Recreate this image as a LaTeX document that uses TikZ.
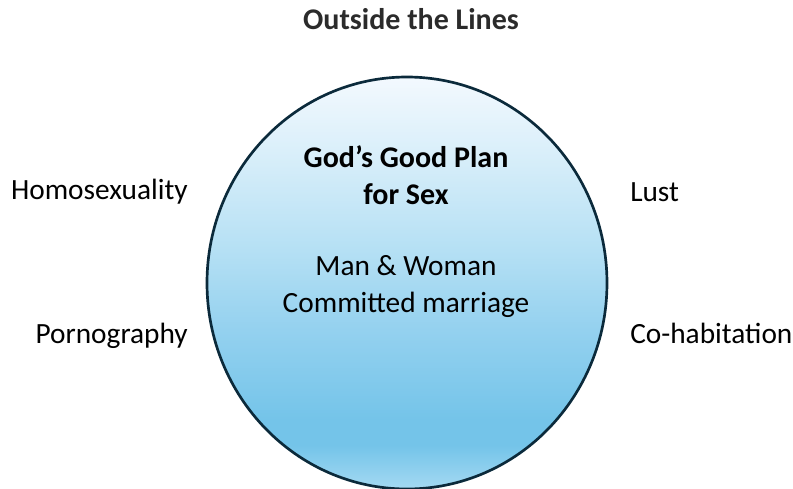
\documentclass[tikz,border=0pt]{standalone}
\usepackage{fontspec}
\setmainfont{Carlito}
\usetikzlibrary{shapes.geometric}
\definecolor{rimcol}{HTML}{0B2A3B}
\definecolor{titlecol}{HTML}{2B2B2B}
\definecolor{gA}{HTML}{F3F9FE}
\definecolor{gB}{HTML}{DAEFFA}
\definecolor{gC}{HTML}{B5E0F4}
\definecolor{gD}{HTML}{94D1EF}
\definecolor{gE}{HTML}{74C4E9}
\definecolor{gF}{HTML}{A4D9F2}
\pgfdeclareverticalshading{planshade}{100bp}{
  color(0bp)=(gF); color(25bp)=(gF); color(30.3bp)=(gE); color(33.4bp)=(gE);
  color(44.3bp)=(gD); color(54bp)=(gC); color(66.1bp)=(gB); color(75bp)=(gA); color(100bp)=(gA)}
\begin{document}
\begin{tikzpicture}[x=0.75pt,y=-0.75pt,
  lbl/.style={inner sep=0pt, font=\fontsize{22}{27.5}\selectfont, text=black},
  ttl/.style={inner sep=0pt, font=\fontsize{22.5}{27.5}\selectfont\bfseries, text=titlecol},
  inner/.style={inner sep=0pt, align=center, font=\fontsize{22}{27.5}\selectfont, text=black}]
\useasboundingbox (0,0) rectangle (793,489);
\node[ellipse, inner sep=0pt, minimum width=300pt, minimum height=309pt,
  shading=planshade, draw=rimcol, line width=2pt] (plan) at (407,283) {};
\node[ttl, anchor=base] (title) at (411,30) {Outside the Lines};
\node[lbl, anchor=base east] (homo) at (188,199) {Homosexuality};
\node[lbl, anchor=base west] (lust) at (630,201) {Lust};
\node[lbl, anchor=base east] (porn) at (188,343) {Pornography};
\node[lbl, anchor=base west] (cohab) at (630,343) {Co-habitation};
\node[inner, anchor=base, font=\fontsize{22.5}{27.5}\selectfont\bfseries] (gods) at (406,204) {God’s Good Plan\\for Sex};
\node[inner, anchor=base] (man) at (406,312) {Man \& Woman\\Committed marriage};
\end{tikzpicture}
\end{document}
